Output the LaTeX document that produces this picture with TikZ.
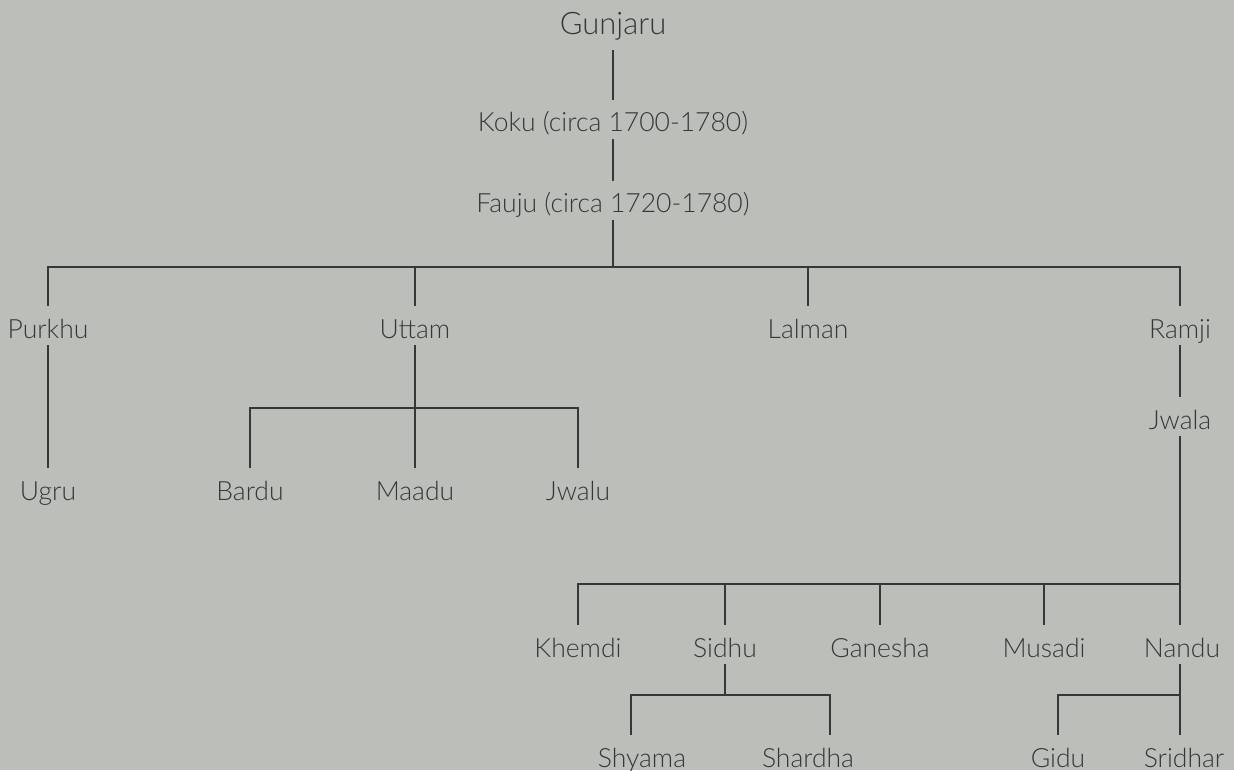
\documentclass[tikz,border=0pt]{standalone}
\usepackage{fontspec}
\IfFontExistsTF{Lato Light}{\setmainfont{Lato Light}}{\setmainfont{Lato}}
\usepackage{tikz}
\usepackage{xcolor}
\definecolor{bggray}{RGB}{188,190,186}
\definecolor{ink}{RGB}{55,55,55}
\tikzset{
  person/.style={anchor=base, inner xsep=0pt, inner ysep=2pt, text height=14pt, text depth=1.5pt,
    text=ink, font=\fontsize{13.25pt}{16pt}\selectfont},
  line/.style={draw=ink, line width=0.75pt}
}

\begin{document}
\begin{tikzpicture}[x=0.5pt, y=-0.5pt]
      \fill[bggray] (0,0) rectangle (1234,770);
      \useasboundingbox (0,0) rectangle (1234,770);

      \node[person, text depth=5.5pt, font=\fontsize{15.5pt}{18pt}\selectfont] (Gunjaru) at (613, 35) {Gunjaru};
      \node[person] (Koku) at (613, 132) {Koku (circa 1700-1780)};
      \node[person] (Fauju) at (613, 213) {Fauju (circa 1720-1780)};

      \node[person] (Purkhu) at (48, 338) {Purkhu};
      \node[person] (Uttam) at (415, 338) {Uttam};
      \node[person] (Lalman) at (808, 338) {Lalman};
      \node[person] (Ramji) at (1180, 338) {Ramji};
      \node[person] (Jwala) at (1180, 429) {Jwala};

      \node[person] (Ugru) at (48, 500) {Ugru};
      \node[person] (Bardu) at (250, 500) {Bardu};
      \node[person] (Maadu) at (415, 500) {Maadu};
      \node[person] (Jwalu) at (578, 500) {Jwalu};

      \node[person] (Khemdi) at (578, 657) {Khemdi};
      \node[person] (Sidhu) at (725, 657) {Sidhu};
      \node[person] (Ganesha) at (880, 657) {Ganesha};
      \node[person] (Musadi) at (1044, 657) {Musadi};
      \node[person] (Nandu) at (1182, 657) {Nandu};

      \node[person] (Shyama) at (642, 767) {Shyama};
      \node[person] (Shardha) at (808, 767) {Shardha};
      \node[person] (Gidu) at (1058, 767) {Gidu};
      \node[person] (Sridhar) at (1184, 767) {Sridhar};

      \coordinate (bar0) at (613, 267);
      \coordinate (bar1) at (415, 408);
      \coordinate (bar2) at (1180, 584);
      \coordinate (bar3) at (725, 695);
      \coordinate (bar4) at (1180, 695);

      \draw[line] (Gunjaru.south) to (Koku.north);
      \draw[line] (Koku.south) to (Fauju.north);
      \foreach \kid in {Purkhu, Uttam, Lalman, Ramji}
        \draw[line] (Fauju.south) -- (bar0) -| (\kid.north);
      \draw[line] (Purkhu.south) to (Ugru.north);
      \foreach \kid in {Bardu, Maadu, Jwalu}
        \draw[line] (Uttam.south) -- (bar1) -| (\kid.north);
      \draw[line] (Ramji.south -| bar2) to (Jwala.north -| bar2);
      \foreach \kid in {Khemdi, Sidhu, Ganesha, Musadi}
        \draw[line] (Jwala.south -| bar2) -- (bar2) -| (\kid.north);
      \draw[line] (bar2) to (Nandu.north -| bar2);
      \draw[line] (Sidhu.south) -- (bar3) -| ([xshift=-5.5pt]Shyama.north);
      \draw[line] (bar3) -| ([xshift=11pt]Shardha.north);
      \draw[line] (Nandu.south -| bar4) -- (bar4) -| (Gidu.north);
      \draw[line] (bar4) to (Sridhar.north -| bar4);
    \end{tikzpicture}
\end{document}
